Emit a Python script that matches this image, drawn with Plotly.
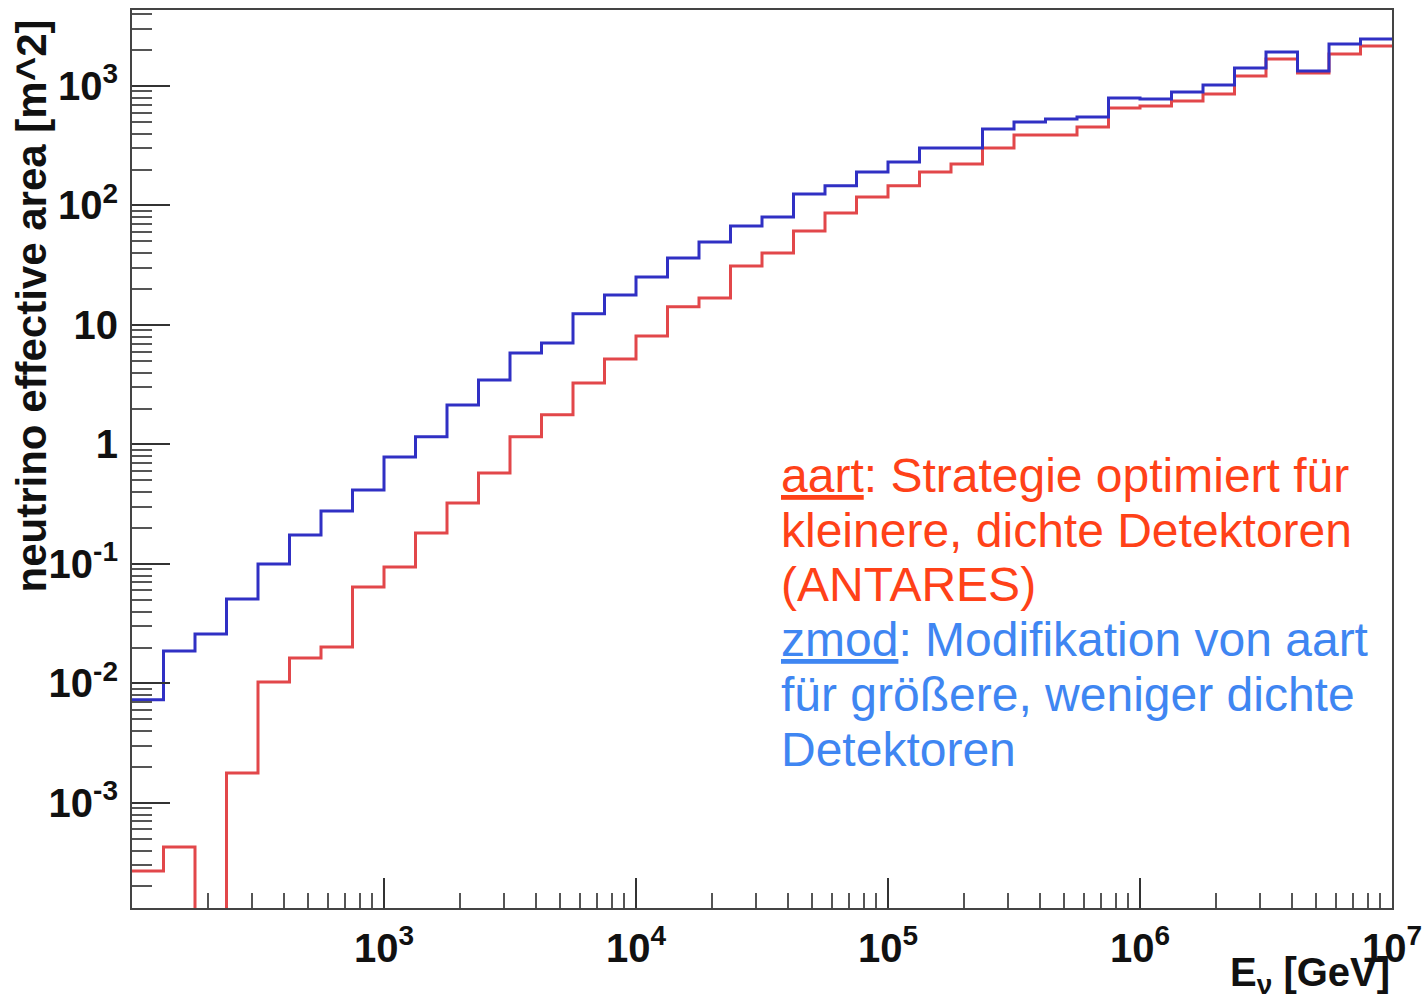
import numpy as np
import plotly.graph_objects as go

# Histogram binning: 8 bins per decade from 1e2 to 1e7 GeV
bin_edges = np.logspace(2, 7, 41)

# neutrino effective area [m^2] per bin
zmod_area = [0.0073, 0.0187, 0.026, 0.051, 0.100, 0.175, 0.278, 0.416, 0.785, 1.16,
             2.14, 3.47, 5.83, 7.07, 12.4, 17.8, 25.2, 36.4, 49.5, 67.4,
             80.2, 125, 146, 191, 231, 303, 303, 437, 500, 529,
             550, 794, 778, 891, 1019, 1415, 1926, 1336, 2245, 2473]
aart_area = [2.7e-4, 4.28e-4, 0, 1.78e-3, 0.0103, 0.0163, 0.0202, 0.0642, 0.0944, 0.182,
             0.324, 0.578, 1.16, 1.77, 3.27, 5.19, 8.09, 14.2, 16.8, 31.2,
             40.1, 61.2, 86.5, 118, 146, 191, 222, 303, 389, 389,
             454, 655, 681, 749, 857, 1213, 1683, 1285, 1853, 2163]

x_tick_vals = [1e3, 1e4, 1e5, 1e6, 1e7]
x_tick_text = ["10<sup>3</sup>", "10<sup>4</sup>", "10<sup>5</sup>", "10<sup>6</sup>", "10<sup>7</sup>"]
y_tick_vals = [1e-3, 1e-2, 1e-1, 1, 10, 1e2, 1e3]
y_tick_text = ["10<sup>-3</sup>", "10<sup>-2</sup>", "10<sup>-1</sup>", "1", "10", "10<sup>2</sup>", "10<sup>3</sup>"]

Y_MIN_LOG, Y_MAX_LOG = -3.879, 3.636
FLOOR = 10 ** (Y_MIN_LOG - 2)  # empty bins drawn down to below the frame


def step_y(vals):
    v = [val if val > 0 else FLOOR for val in vals]
    return v + [v[-1]]


x_minor = [m * 10 ** d for d in range(2, 7) for m in range(2, 10)]
y_minor = [m * 10 ** d for d in range(-4, 4) for m in range(2, 10)
           if Y_MIN_LOG < np.log10(m * 10 ** d) < Y_MAX_LOG]

fig = go.Figure()
fig.add_trace(go.Scatter(x=bin_edges, y=step_y(aart_area), mode="lines",
                         line=dict(shape="hv", color="#e2474a", width=3),
                         name="aart", showlegend=False))
fig.add_trace(go.Scatter(x=bin_edges, y=step_y(zmod_area), mode="lines",
                         line=dict(shape="hv", color="#3030c4", width=3),
                         name="zmod", showlegend=False))

W, H = 1422, 1001
ML, MR, MT, MB = 132, 30, 10, 93
PW, PH = W - ML - MR, H - MT - MB


def px_x(x):
    return (x - ML) / PW


def px_y(y):
    return (H - MB - y) / PH


tick_font = dict(family="Liberation Sans, Arial, sans-serif", size=40, color="#111")

fig.update_layout(
    width=W, height=H,
    margin=dict(l=ML, r=MR, t=MT, b=MB, autoexpand=False),
    paper_bgcolor="white", plot_bgcolor="white",
    xaxis=dict(type="log", range=[2, 7], showgrid=False, zeroline=False, automargin=False,
               showline=True, mirror=True, linecolor="#444", linewidth=2,
               ticks="inside", ticklen=30, tickwidth=1.5, tickcolor="#333",
               tickvals=x_tick_vals, ticktext=["<b>" + t + "</b>" for t in x_tick_text],
               tickfont=tick_font, ticklabelstandoff=4, ticklabeloverflow="allow",
               minor=dict(tickmode="array", tickvals=x_minor, ticks="inside",
                          ticklen=15, tickwidth=1.5, tickcolor="#555", showgrid=False)),
    yaxis=dict(type="log", range=[Y_MIN_LOG, Y_MAX_LOG], showgrid=False, zeroline=False,
               automargin=False, ticklabeloverflow="allow",
               showline=True, mirror=True, linecolor="#444", linewidth=2,
               ticks="inside", ticklen=38, tickwidth=1.5, tickcolor="#333",
               tickvals=y_tick_vals, ticktext=["<b>" + t + "</b>" for t in y_tick_text],
               tickfont=tick_font, ticklabelstandoff=4,
               minor=dict(tickmode="array", tickvals=y_minor, ticks="inside",
                          ticklen=20, tickwidth=1.5, tickcolor="#555", showgrid=False)),
)

# axis titles (ROOT style, aligned to axis end)
fig.add_annotation(text="<b>neutrino effective area [m^2]</b>", textangle=-90,
                   xref="paper", yref="paper", x=px_x(31), y=px_y(18),
                   xanchor="center", yanchor="top", showarrow=False,
                   font=dict(family="Liberation Sans Narrow, Liberation Sans, Arial, sans-serif",
                             size=42, color="#111"))
fig.add_annotation(text="<b>E<sub>ν</sub> [GeV]</b>",
                   xref="paper", yref="paper", x=1.0, y=px_y(975),
                   xanchor="right", yanchor="middle", showarrow=False,
                   font=dict(family="Liberation Sans, Arial, sans-serif", size=40, color="#111"))

red_txt = "#ff4118"
blue_txt = "#3f86f2"
lines = [
    ("<u>aart</u>: Strategie optimiert für", red_txt),
    ("kleinere, dichte Detektoren", red_txt),
    ("(ANTARES)", red_txt),
    ("<u>zmod</u>: Modifikation von aart", blue_txt),
    ("für größere, weniger dichte", blue_txt),
    ("Detektoren", blue_txt),
]
baselines = [493, 548, 602, 657, 712, 767]
FS = 48
for (txt, col), b in zip(lines, baselines):
    fig.add_annotation(text=txt, xref="paper", yref="paper",
                       x=px_x(779), y=px_y(b - 0.36 * FS),
                       xanchor="left", yanchor="middle", showarrow=False,
                       font=dict(family="Liberation Sans, Arial, sans-serif", size=FS, color=col))

fig.write_html("out.html")
